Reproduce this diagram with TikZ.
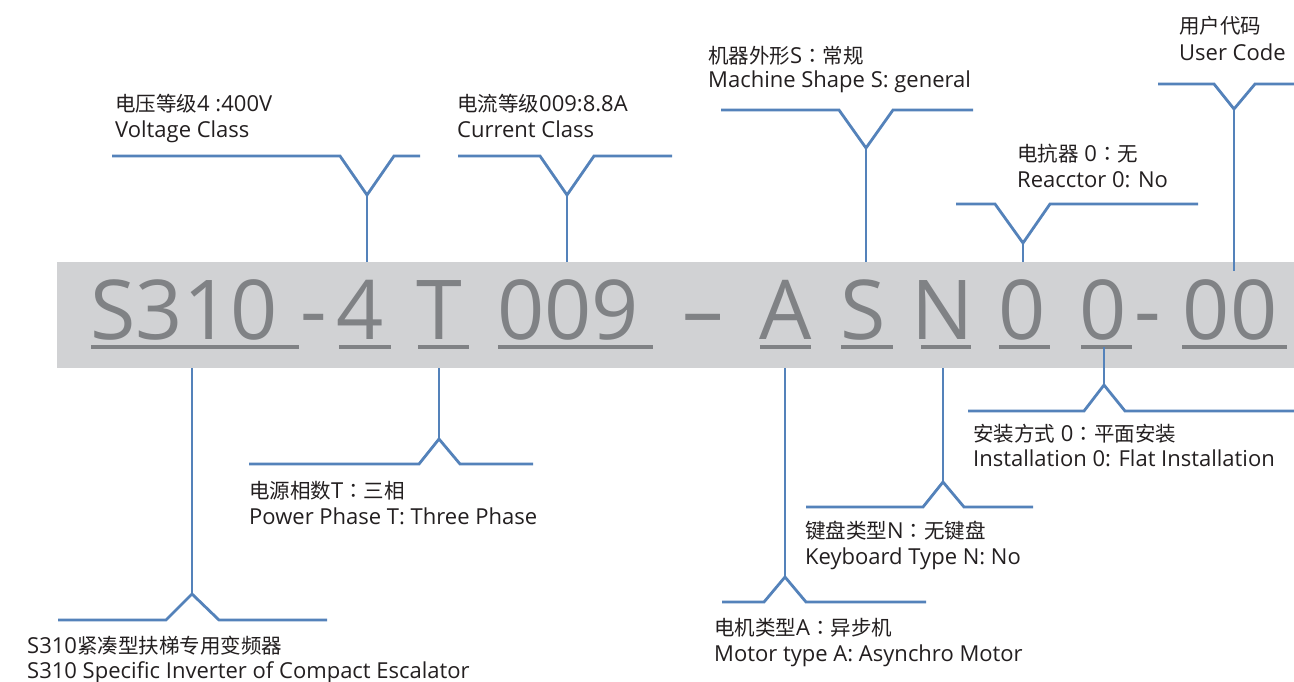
\documentclass[tikz,border=0pt]{standalone}
\usepackage{fontspec}
\setmainfont{Open Sans}
\newfontfamily\cjkfont{Noto Sans CJK SC}
\newfontfamily\cjkpunct{Noto Sans CJK TC}
\newcommand{\zhtxt}[1]{{\cjkfont\fontsize{20.5}{24}\selectfont #1}}
\newcommand{\zhcolon}{{\cjkpunct\fontsize{20.5}{24}\selectfont ：}}
\definecolor{bandgray}{RGB}{209,210,212}
\definecolor{codegray}{RGB}{128,130,133}
\definecolor{lineblue}{RGB}{84,130,186}
\definecolor{labtext}{RGB}{35,31,32}
\tikzset{
  codetxt/.style={inner sep=0pt, anchor=base, text=codegray, font=\fontsize{82.6}{90}\selectfont},
  uline/.style={draw=codegray, line width=4pt},
  callout/.style={draw=lineblue, line width=2.8pt, line join=miter},
  labtxt/.style={inner sep=0pt, anchor=base west, text=labtext, font=\fontsize{22}{26}\selectfont},
}
\begin{document}
\begin{tikzpicture}[x=1pt,y=-1pt]
\useasboundingbox[fill=white] (0,0) rectangle (1294,681);
% band
\node[fill=bandgray, inner sep=0pt, minimum width=1237pt, minimum height=106pt, anchor=north west] (band) at (57,262) {};
\coordinate (vA) at (367,195);
\coordinate (vB) at (567,195);
\coordinate (vC) at (866,148);
\coordinate (vD) at (1023,243);
\coordinate (vE) at (1234,109);
\coordinate (vF) at (192,594);
\coordinate (vG) at (439,439);
\coordinate (vH) at (785,577);
\coordinate (vI) at (943,482);
\coordinate (vJ) at (1104,385);
\coordinate (eEnd) at (1234,271);
\coordinate (jStart) at (1104,347);

\draw[callout] (112,156) -- (340,156) -- (vA) -- (394,156) -- (420,156);
\draw[callout] (vA) -- (vA |- band.north);
\draw[callout] (458,156) -- (540,156) -- (vB) -- (594,156) -- (672,156);
\draw[callout] (vB) -- (vB |- band.north);
\draw[callout] (721,110) -- (839,110) -- (vC) -- (893,110) -- (973,110);
\draw[callout] (vC) -- (vC |- band.north);
\draw[callout] (956,204) -- (995,204) -- (vD) -- (1050,204) -- (1198,204);
\draw[callout] (vD) -- (vD |- band.north);
\draw[callout] (1158,84) -- (1214,84) -- (vE) -- (1255,84) -- (1294,84);

\draw[callout] (58,620) -- (166,620) -- (vF) -- (219,620) -- (327,620);
\draw[callout] (vF) -- (vF |- band.south);
\draw[callout] (249,464) -- (419,464) -- (vG) -- (460,464) -- (533,464);
\draw[callout] (vG) -- (vG |- band.south);
\draw[callout] (722,602) -- (764,602) -- (vH) -- (806,602) -- (926,602);
\draw[callout] (vH) -- (vH |- band.south);
\draw[callout] (806,507) -- (923,507) -- (vI) -- (964,507) -- (1033,507);
\draw[callout] (vI) -- (vI |- band.south);
\draw[callout] (968,411) -- (1084,411) -- (vJ) -- (1125,411) -- (1294,411);

% code text
\node[codetxt] (cS310) at (184,339) {S310};
\node[codetxt] (ch1) at (314,339) {-};
\node[codetxt] (c4) at (360,339) {4};
\node[codetxt] (cT) at (439,339) {T};
\node[codetxt] (c009) at (568,339) {009};
\node[codetxt] (cdash) at (703,339) {–};
\node[codetxt] (cA) at (786,339) {A};
\node[codetxt] (cS) at (863,339) {S};
\node[codetxt] (cN) at (943,339) {N};
\node[codetxt] (c0a) at (1022,339) {0};
\node[codetxt] (c0b) at (1103,339) {0};
\node[codetxt] (ch2) at (1148,339) {-};
\node[codetxt] (c00) at (1230,339) {00};
\draw[uline] (91,347) -- (299,347);
\draw[uline] (339,347) -- (391,347);
\draw[uline] (418,347) -- (469,347);
\draw[uline] (498,347) -- (653,347);
\draw[uline] (760,347) -- (811,347);
\draw[uline] (841,347) -- (893,347);
\draw[uline] (921,347) -- (971,347);
\draw[uline] (999,347) -- (1050,347);
\draw[uline] (1081,347) -- (1132,347);
\draw[uline] (1182,347) -- (1287,347);
\draw[callout] (vE) -- (eEnd);
\draw[callout] (jStart) -- (vJ);

% labels
\node[labtxt] (lA1) at (115,111) {\zhtxt{电压等级}4 :400V};
\node[labtxt] (lA2) at (115,137) {Voltage Class};
\node[labtxt] (lB1) at (457,111) {\zhtxt{电流等级}009:8.8A};
\node[labtxt] (lB2) at (457,137) {Current Class};
\node[labtxt] (lC1) at (708,63) {\zhtxt{机器外形}S\zhcolon\zhtxt{常规}};
\node[labtxt] (lC2) at (708,87) {Machine Shape S: general};
\node[labtxt] (lD1) at (1017,161) {\zhtxt{电抗器} 0\zhcolon\zhtxt{无}};
\node[labtxt] (lD2) at (1017,187) {Reacctor 0: No};
\node[labtxt] (lE1) at (1179,33) {\zhtxt{用户代码}};
\node[labtxt] (lE2) at (1179,60) {User Code};
\node[labtxt] (lF1) at (27,653) {S310\zhtxt{紧凑型扶梯专用变频器}};
\node[labtxt] (lF2) at (27,678) {S310 Specific Inverter of Compact Escalator};
\node[labtxt] (lG1) at (249,498) {\zhtxt{电源相数}T\zhcolon\zhtxt{三相}};
\node[labtxt] (lG2) at (249,524) {Power Phase T: Three Phase};
\node[labtxt] (lH1) at (714,635) {\zhtxt{电机类型}A\zhcolon\zhtxt{异步机}};
\node[labtxt] (lH2) at (714,661) {Motor type A: Asynchro Motor};
\node[labtxt] (lI1) at (805,538) {\zhtxt{键盘类型}N\zhcolon\zhtxt{无键盘}};
\node[labtxt] (lI2) at (805,564) {Keyboard Type N: No};
\node[labtxt] (lJ1) at (973,441) {\zhtxt{安装方式} 0\zhcolon\zhtxt{平面安装}};
\node[labtxt] (lJ2) at (973,466) {Installation 0: Flat Installation};
\end{tikzpicture}
\end{document}
